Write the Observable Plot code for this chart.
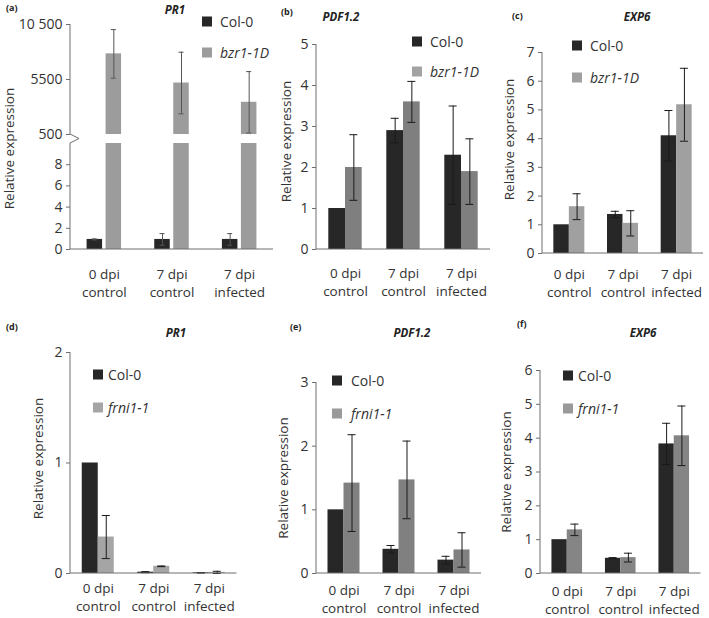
<!DOCTYPE html>
<html>
<head>
<meta charset="utf-8">
<script src="https://cdn.jsdelivr.net/npm/d3@7"></script>
<script src="https://cdn.jsdelivr.net/npm/@observablehq/plot@0.6"></script>
<style>
  body { margin: 0; background: #fff; }
  #fig { position: relative; width: 709px; height: 618px; overflow: hidden; background: #fff; font-family: "Open Sans", sans-serif; color: #222; }
  .abs { position: absolute; white-space: nowrap; }
  .letter { font-size: 9px; font-weight: bold; transform: translateY(-50%); }
  .title { font-size: 11.5px; font-weight: bold; font-style: italic; transform: translate(-50%, -50%); }
  .leg { font-size: 14px; color: #333; transform: translateY(-50%); display: flex; align-items: center; }
  .sw { display: inline-block; width: 10px; height: 10px; }
</style>
</head>
<body>
<div id="fig"></div>
<script>
// ---------- data ----------
const categories = ["0 dpi\ncontrol", "7 dpi\ncontrol", "7 dpi\ninfected"];
const genes = ["PR1", "PDF1.2", "EXP6"];
const mutants = ["bzr1-1D", "frni1-1"];
const wildtype = "Col-0";
const yLabel = "Relative expression";
const panelLetters = ["(a)", "(b)", "(c)", "(d)", "(e)", "(f)"];

// (a) PR1, bzr1-1D (broken axis)
const aCol0 = [0.95, 0.95, 0.95];
const aCol0Err = [0.05, 0.55, 0.55];
const aMut = [7830, 5180, 3430];
const aMutErr = [2210, 2800, 2790];
const aTicks = [0, 2, 4, 6, 8, 500, 5500, 10500];
const aTickLabels = ["0", "2", "4", "6", "8", "500", "5500", "10 500"];

// (b) PDF1.2, bzr1-1D
const bCol0 = [1.0, 2.9, 2.3];
const bCol0Err = [0, 0.3, 1.2];
const bMut = [2.0, 3.6, 1.9];
const bMutErr = [0.8, 0.5, 0.8];
const bTicks = [0, 1, 2, 3, 4, 5];

// (c) EXP6, bzr1-1D
const cCol0 = [1.0, 1.36, 4.1];
const cCol0Err = [0, 0.11, 0.88];
const cMut = [1.63, 1.05, 5.18];
const cMutErr = [0.45, 0.44, 1.27];
const cTicks = [0, 1, 2, 3, 4, 5, 6, 7];

// (d) PR1, frni1-1
const dCol0 = [1.0, 0.012, 0.006];
const dCol0Err = [0, 0.005, 0.003];
const dMut = [0.33, 0.065, 0.01];
const dMutErr = [0.195, 0.003, 0.01];
const dTicks = [0, 1, 2];

// (e) PDF1.2, frni1-1
const eCol0 = [1.0, 0.38, 0.21];
const eCol0Err = [0, 0.06, 0.06];
const eMut = [1.42, 1.47, 0.37];
const eMutErr = [0.76, 0.61, 0.27];
const eTicks = [0, 1, 2, 3];

// (f) EXP6, frni1-1
const fCol0 = [1.0, 0.45, 3.83];
const fCol0Err = [0, 0.02, 0.61];
const fMut = [1.29, 0.47, 4.07];
const fMutErr = [0.17, 0.13, 0.88];
const fTicks = [0, 1, 2, 3, 4, 5, 6];

// ---------- layout / style ----------
const dark = "#272727";
const axisColor = "#6e6e6e";
const panels = [
  {col0: aCol0, col0Err: aCol0Err, mut: aMut, mutErr: aMutErr, ticks: aTicks, tickFormat: d => aTickLabels[aTicks.indexOf(d)],
   yDomain: [0, 10, 500, 10500], yRange: [249, 143, 134, 24], segments: [[0, 10], [500, 10500]],
   left: 0, top: 0, width: 283, height: 310, mL: 70, mR: 10, mT: 24, mB: 61,
   bar: 15.5, gap: 3.5, cap: 5, errColor: "#555", gray: "#9c9c9c", legGray: "#9c9c9c", xPad: 17, labDx: -61, labDy: 11.5,
   gene: 0, mutant: 0, title: [175, 9], letter: [6, 7], leg: [202, 21, 52, 8]},
  {col0: bCol0, col0Err: bCol0Err, mut: bMut, mutErr: bMutErr, ticks: bTicks,
   yDomain: [0, 5], segments: [[0, 5]],
   left: 283, top: 0, width: 217, height: 310, mL: 33, mR: 10, mT: 44, mB: 61,
   bar: 16.7, gap: 0, cap: 8, errColor: "#1a1a1a", gray: "#7f7f7f", legGray: "#a3a3a3", xPad: 16, labDx: -30, labDy: -5.5,
   gene: 1, mutant: 0, title: [341, 16], letter: [281, 11], leg: [412, 41, 71, 8]},
  {col0: cCol0, col0Err: cCol0Err, mut: cMut, mutErr: cMutErr, ticks: cTicks,
   yDomain: [0, 7], segments: [[0, 7]],
   left: 500, top: 0, width: 209, height: 310, mL: 42, mR: 6, mT: 52, mB: 57,
   bar: 15.5, gap: 0, cap: 8, errColor: "#1a1a1a", gray: "#a0a0a0", legGray: "#a0a0a0", xPad: 13, labDx: -33, labDy: -13.5,
   gene: 2, mutant: 0, title: [637, 16], letter: [512, 15], leg: [572, 45, 77, 8]},
  {col0: dCol0, col0Err: dCol0Err, mut: dMut, mutErr: dMutErr, ticks: dTicks,
   yDomain: [0, 2], segments: [[0, 2]],
   left: 0, top: 310, width: 250, height: 308, mL: 70, mR: 13.5, mT: 42, mB: 45,
   bar: 16, gap: 0, cap: 8, errColor: "#1a1a1a", gray: "#a5a5a5", legGray: "#a5a5a5", xPad: 7, labDx: -32, labDy: -4.5,
   gene: 0, mutant: 1, title: [176, 332], letter: [6, 326], leg: [93, 374, 407, 5]},
  {col0: eCol0, col0Err: eCol0Err, mut: eMut, mutErr: eMutErr, ticks: eTicks,
   yDomain: [0, 3], segments: [[0, 3]],
   left: 250, top: 310, width: 240, height: 308, mL: 66, mR: 9, mT: 72, mB: 45,
   bar: 16, gap: 0, cap: 8, errColor: "#1a1a1a", gray: "#808080", legGray: "#9a9a9a", xPad: 9.5, labDx: -33, labDy: 0,
   gene: 1, mutant: 1, title: [412, 332], letter: [290, 326], leg: [332, 380, 413, 9]},
  {col0: fCol0, col0Err: fCol0Err, mut: fMut, mutErr: fMutErr, ticks: fTicks,
   yDomain: [0, 6], segments: [[0, 6]],
   left: 490, top: 310, width: 219, height: 308, mL: 50, mR: 8.5, mT: 60, mB: 45,
   bar: 15.3, gap: 0, cap: 8, errColor: "#1a1a1a", gray: "#858585", legGray: "#999999", xPad: 10.5, labDx: -34, labDy: 0,
   gene: 2, mutant: 1, title: [643, 332], letter: [517, 323], leg: [563, 375, 408, 5]}
];

const fig = document.getElementById("fig");

function makePanel(p) {
  const rows = categories.map((cat, i) => ({cat, col: p.col0[i], colE: p.col0Err[i], mut: p.mut[i], mutE: p.mutErr[i]}));
  const fw = p.width - p.mL - p.mR;
  const step = fw / categories.length;
  const bw = 2 * p.bar + p.gap;
  const pin = 1 - bw / step;
  const off = (p.bar + p.gap) / 2;
  const capIn = c => ({insetLeft: c - p.cap / 2, insetRight: bw - c - p.cap / 2});
  const colCap = capIn(p.bar / 2), mutCap = capIn(bw - p.bar / 2);
  const errStyle = {stroke: p.errColor, strokeWidth: 1};

  const barMarks = [];
  for (const [s0, s1] of p.segments) {
    barMarks.push(Plot.barY(rows.filter(d => d.col > s0), {x: "cat", y1: s0, y2: d => Math.min(d.col, s1), fill: dark, insetLeft: 0, insetRight: bw - p.bar}));
    barMarks.push(Plot.barY(rows.filter(d => d.mut > s0), {x: "cat", y1: s0, y2: d => Math.min(d.mut, s1), fill: p.gray, insetLeft: bw - p.bar, insetRight: 0}));
  }
  const ce = rows.filter(d => d.colE > 0), me = rows.filter(d => d.mutE > 0);
  const errMarks = [
    Plot.ruleX(ce, {x: "cat", y1: d => d.col - d.colE, y2: d => d.col + d.colE, dx: -off, ...errStyle}),
    Plot.tickY(ce, {x: "cat", y: d => d.col - d.colE, ...colCap, ...errStyle}),
    Plot.tickY(ce, {x: "cat", y: d => d.col + d.colE, ...colCap, ...errStyle}),
    Plot.ruleX(me, {x: "cat", y1: d => d.mut - d.mutE, y2: d => d.mut + d.mutE, dx: off, ...errStyle}),
    Plot.tickY(me, {x: "cat", y: d => d.mut - d.mutE, ...mutCap, ...errStyle}),
    Plot.tickY(me, {x: "cat", y: d => d.mut + d.mutE, ...mutCap, ...errStyle})
  ];

  const axisLine = (index, scales, values, dims) => {
    const y = scales.y, x0 = dims.marginLeft;
    let d;
    if (p.segments.length === 2) {
      const [lower, upper] = p.segments;
      const yb = y(upper[0]), ya = y(lower[1]);
      d = `M${x0},${y(upper[1])}V${yb}L${x0 + 9},${(yb + ya) / 2}L${x0},${ya}V${y(0)}`;
    } else {
      d = `M${x0},${y(p.yDomain[p.yDomain.length - 1])}V${y(0)}`;
    }
    d += `M${x0},${y(0)}H${dims.width - dims.marginRight}`;
    return d3.create("svg:path").attr("d", d).attr("fill", "none").attr("stroke", axisColor).attr("stroke-width", 1).node();
  };

  const yScale = {type: "linear", domain: p.yDomain};
  if (p.yRange) yScale.range = p.yRange;

  const svg = Plot.plot({
    width: p.width, height: p.height,
    marginLeft: p.mL, marginRight: p.mR, marginTop: p.mT, marginBottom: p.mB,
    style: {background: "transparent", overflow: "visible", fontFamily: "Open Sans", color: "#333"},
    x: {type: "band", domain: categories, paddingInner: pin, paddingOuter: pin / 2, round: false},
    y: yScale,
    marks: [
      ...barMarks,
      ...errMarks,
      axisLine,
      Plot.axisY({ticks: p.ticks, tickFormat: p.tickFormat ?? (d => String(d)), tickSize: 4, tickPadding: 4, fontSize: 14, stroke: axisColor, label: null}),
      Plot.axisX({tickSize: 0, tickPadding: p.xPad, fontSize: 13.5, lineHeight: 1.3, label: null}),
      Plot.text([yLabel], {text: d => d, frameAnchor: "left", textAnchor: "middle", lineAnchor: "middle", rotate: -90, dx: p.labDx, dy: p.labDy, fontSize: 13.5, fill: "#333"})
    ]
  });
  svg.style.position = "absolute";
  svg.style.left = p.left + "px";
  svg.style.top = p.top + "px";
  fig.appendChild(svg);
}

function addDiv(cls, x, y, html) {
  const el = document.createElement("div");
  el.className = "abs " + cls;
  el.style.left = x + "px";
  el.style.top = y + "px";
  el.innerHTML = html;
  fig.appendChild(el);
  return el;
}

panels.forEach((p, i) => {
  makePanel(p);
  addDiv("letter", p.letter[0], p.letter[1], panelLetters[i]);
  addDiv("title", p.title[0], p.title[1], genes[p.gene]);
  const [lx, y1, y2, gap] = p.leg;
  addDiv("leg", lx, y1, `<span class="sw" style="background:${dark}"></span><span style="margin-left:${gap}px">${wildtype}</span>`);
  addDiv("leg", lx, y2, `<span class="sw" style="background:${p.legGray}"></span><span style="margin-left:${gap}px;font-style:italic">${mutants[p.mutant]}</span>`);
});
</script>
</body>
</html>
